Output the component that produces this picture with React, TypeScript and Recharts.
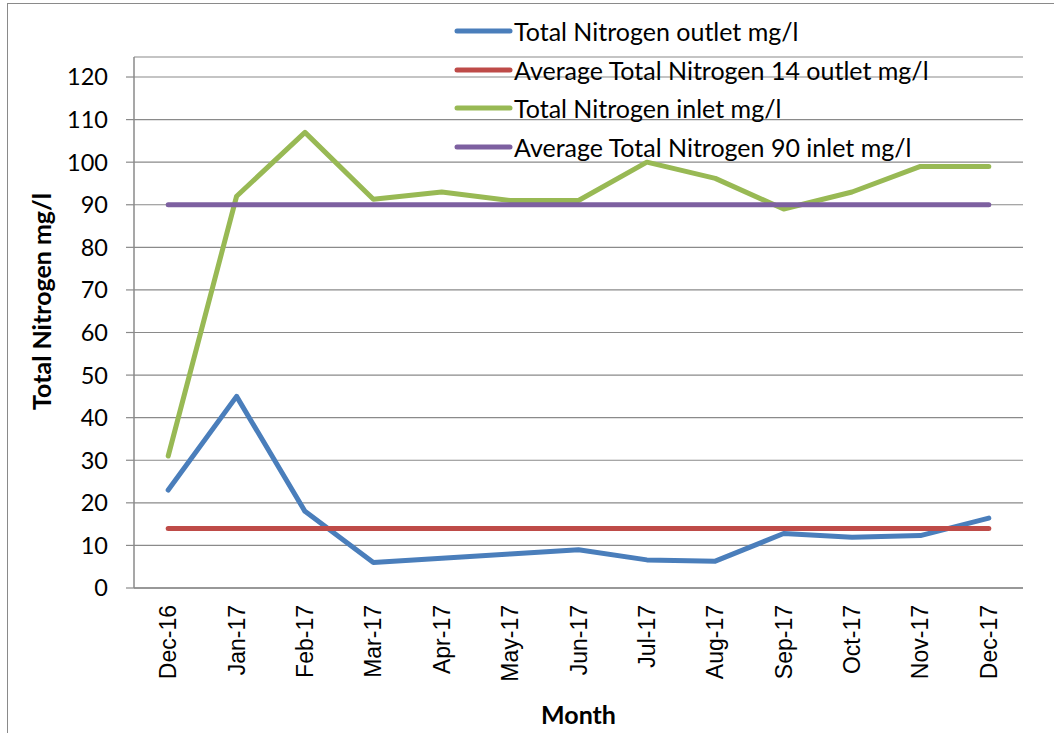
import React from 'react';
import { LineChart, Line, XAxis, YAxis, CartesianGrid, Legend } from 'recharts';

const months = ['Dec-16', 'Jan-17', 'Feb-17', 'Mar-17', 'Apr-17', 'May-17', 'Jun-17', 'Jul-17', 'Aug-17', 'Sep-17', 'Oct-17', 'Nov-17', 'Dec-17'];
const outlet = [23, 45, 18, 6, 7, 8, 9, 6.6, 6.3, 12.8, 11.9, 12.3, 16.4];
const avgOutlet = [14, 14, 14, 14, 14, 14, 14, 14, 14, 14, 14, 14, 14];
const inlet = [31, 92, 107, 91.3, 93, 91, 91, 100, 96.2, 89, 93, 99, 99];
const avgInlet = [90, 90, 90, 90, 90, 90, 90, 90, 90, 90, 90, 90, 90];
const yTicks = [0, 10, 20, 30, 40, 50, 60, 70, 80, 90, 100, 110, 120];

const seriesNames = [
  'Total Nitrogen outlet mg/l',
  'Average Total Nitrogen 14 outlet mg/l',
  'Total Nitrogen inlet mg/l',
  'Average Total Nitrogen 90 inlet mg/l',
];
const seriesColors = ['#4A7EBB', '#BE4B48', '#98B954', '#7D60A0'];

const data = months.map((m, i) => ({
  month: m,
  outlet: outlet[i],
  avgOutlet: avgOutlet[i],
  inlet: inlet[i],
  avgInlet: avgInlet[i],
}));

const calibri = 'Lato, "Noto Sans", sans-serif';
const arial = '"Liberation Sans", Arial, sans-serif';

const XTick = (props: any) => {
  const { x, y, payload } = props;
  return (
    <text
      x={x}
      y={y}
      dy="0.35em"
      transform={`rotate(-90, ${x}, ${y})`}
      textAnchor="end"
      fontFamily={arial}
      fontSize={23}
      fill="#000"
    >
      {payload.value}
    </text>
  );
};

const YTick = (props: any) => {
  const { x, y, payload } = props;
  return (
    <text x={x} y={y} dy="0.36em" textAnchor="end" fontFamily={calibri} fontSize={23.5} fill="#000">
      {payload.value}
    </text>
  );
};

const YTitle = (props: any) => {
  const vb = props.viewBox || { x: 0, y: 57, width: 134, height: 531 };
  const cx = vb.x + 42;
  const cy = vb.y + vb.height / 2 - 21;
  return (
    <text
      x={cx}
      y={cy}
      dy="0.36em"
      transform={`rotate(-90, ${cx}, ${cy})`}
      textAnchor="middle"
      fontFamily={calibri}
      fontWeight={700}
      fontSize={25}
      fill="#000"
    >
      Total Nitrogen mg/l
    </text>
  );
};

const LegendContent = () => (
  <div style={{ fontFamily: calibri, fontSize: 25, color: '#000' }}>
    {seriesNames.map((n, i) => (
      <div key={n} style={{ display: 'flex', alignItems: 'center', height: 38.5, whiteSpace: 'nowrap' }}>
        <svg width={60} height={8} style={{ display: 'block' }}>
          <line x1={3} y1={4} x2={56} y2={4} stroke={seriesColors[i]} strokeWidth={5} strokeLinecap="round" />
        </svg>
        <span>{n}</span>
      </div>
    ))}
  </div>
);

export default function App() {
  return (
    <div style={{ position: 'absolute', left: 0, top: 0, width: 1054, height: 733, overflow: 'hidden', background: '#fff' }}>
      <div
        style={{
          position: 'absolute',
          left: 7,
          top: 3,
          width: 1200,
          height: 900,
          border: '1px solid #8a8a8a',
        }}
      />
      <div style={{ position: 'absolute', left: 0, top: 0 }}>
        <LineChart width={1054} height={733} data={data} margin={{ top: 57, right: 31, bottom: 0, left: 0 }}>
          <CartesianGrid vertical={false} stroke="#8a8a8a" strokeWidth={1.2} />
          <XAxis
            dataKey="month"
            height={145}
            padding={{ left: 34.2, right: 34.2 }}
            tickLine={false}
            tickSize={0}
            tickMargin={17}
            axisLine={{ stroke: '#8a8a8a', strokeWidth: 1.5 }}
            tick={<XTick />}
            interval={0}
            label={{ value: 'Month', position: 'insideBottom', offset: 9, fontFamily: calibri, fontWeight: 700, fontSize: 25, fill: '#000' }}
          />
          <YAxis
            domain={[0, 124.7]}
            ticks={yTicks}
            width={134}
            tickSize={8}
            tickMargin={18}
            tickLine={{ stroke: '#8a8a8a', strokeWidth: 1.2 }}
            axisLine={{ stroke: '#8a8a8a', strokeWidth: 1.5 }}
            tick={<YTick />}
            interval={0}
            label={<YTitle />}
          />
          <Legend
            layout="vertical"
            align="center"
            verticalAlign="middle"
            content={<LegendContent />}
            wrapperStyle={{ left: 454, top: 12, width: 'auto' }}
          />
          <Line dataKey="outlet" name={seriesNames[0]} stroke={seriesColors[0]} strokeWidth={5} dot={false} isAnimationActive={false} strokeLinecap="round" strokeLinejoin="round" />
          <Line dataKey="avgOutlet" name={seriesNames[1]} stroke={seriesColors[1]} strokeWidth={5} dot={false} isAnimationActive={false} strokeLinecap="round" strokeLinejoin="round" />
          <Line dataKey="inlet" name={seriesNames[2]} stroke={seriesColors[2]} strokeWidth={5} dot={false} isAnimationActive={false} strokeLinecap="round" strokeLinejoin="round" />
          <Line dataKey="avgInlet" name={seriesNames[3]} stroke={seriesColors[3]} strokeWidth={5} dot={false} isAnimationActive={false} strokeLinecap="round" strokeLinejoin="round" />
        </LineChart>
      </div>
    </div>
  );
}
